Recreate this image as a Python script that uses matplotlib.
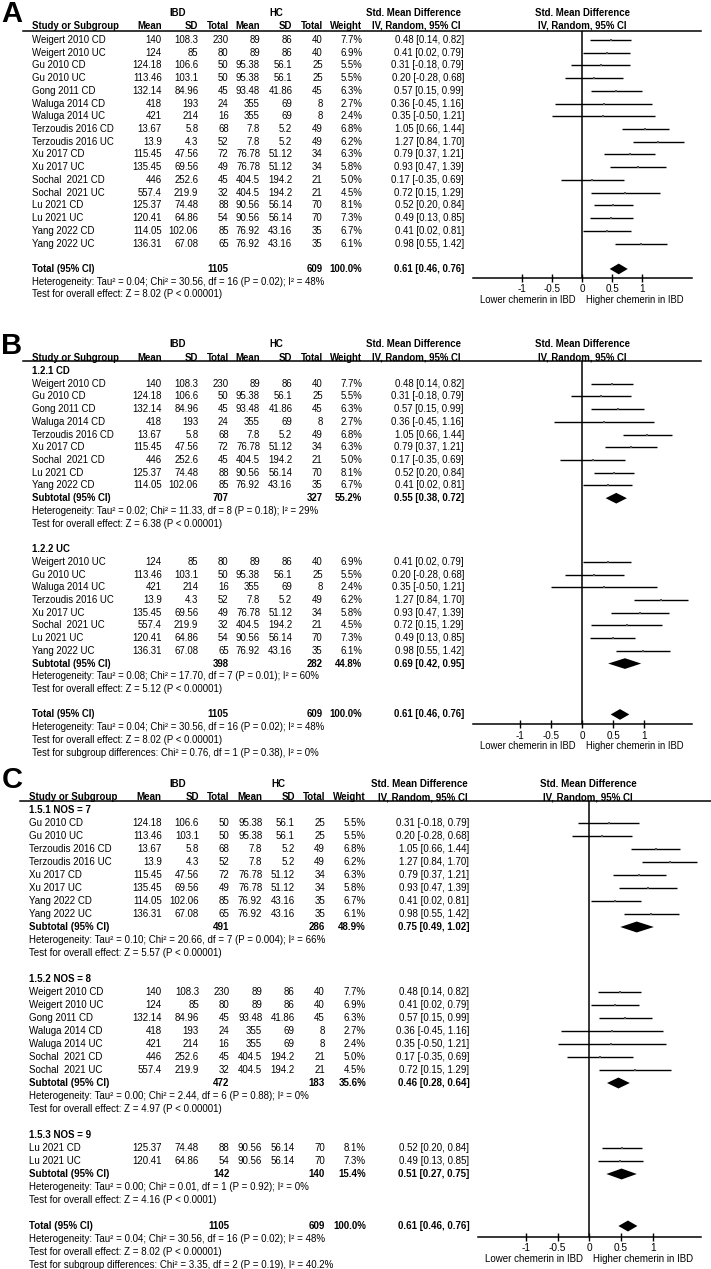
import matplotlib
matplotlib.use("Agg")
import matplotlib.pyplot as plt

plt.rcParams['font.family'] = ['Liberation Sans', 'DejaVu Sans']
plt.rcParams['axes.unicode_minus'] = False

# ---- study level data (order of panel A) ----
names = ["Weigert 2010 CD", "Weigert 2010 UC", "Gu 2010 CD", "Gu 2010 UC", "Gong 2011 CD",
         "Waluga 2014 CD", "Waluga 2014 UC", "Terzoudis 2016 CD", "Terzoudis 2016 UC",
         "Xu 2017 CD", "Xu 2017 UC", "Sochal  2021 CD", "Sochal  2021 UC",
         "Lu 2021 CD", "Lu 2021 UC", "Yang 2022 CD", "Yang 2022 UC"]
ibd_mean = [140, 124, 124.18, 113.46, 132.14, 418, 421, 13.67, 13.9, 115.45, 135.45, 446, 557.4,
            125.37, 120.41, 114.05, 136.31]
ibd_sd = [108.3, 85, 106.6, 103.1, 84.96, 193, 214, 5.8, 4.3, 47.56, 69.56, 252.6, 219.9,
          74.48, 64.86, 102.06, 67.08]
ibd_n = [230, 80, 50, 50, 45, 24, 16, 68, 52, 72, 49, 45, 32, 88, 54, 85, 65]
hc_mean = [89, 89, 95.38, 95.38, 93.48, 355, 355, 7.8, 7.8, 76.78, 76.78, 404.5, 404.5,
           90.56, 90.56, 76.92, 76.92]
hc_sd = [86, 86, 56.1, 56.1, 41.86, 69, 69, 5.2, 5.2, 51.12, 51.12, 194.2, 194.2,
         56.14, 56.14, 43.16, 43.16]
hc_n = [40, 40, 25, 25, 45, 8, 8, 49, 49, 34, 34, 21, 21, 70, 70, 35, 35]
weight = [7.7, 6.9, 5.5, 5.5, 6.3, 2.7, 2.4, 6.8, 6.2, 6.3, 5.8, 5.0, 4.5, 8.1, 7.3, 6.7, 6.1]
smd = [0.48, 0.41, 0.31, 0.20, 0.57, 0.36, 0.35, 1.05, 1.27, 0.79, 0.93, 0.17, 0.72, 0.52, 0.49, 0.41, 0.98]
smd_lo = [0.14, 0.02, -0.18, -0.28, 0.15, -0.45, -0.50, 0.66, 0.84, 0.37, 0.47, -0.35, 0.15,
          0.20, 0.13, 0.02, 0.55]
smd_hi = [0.82, 0.79, 0.79, 0.68, 0.99, 1.16, 1.21, 1.44, 1.70, 1.21, 1.39, 0.69, 1.29,
          0.84, 0.85, 0.81, 1.42]

# ---- overall pooled result ----
tot_ibd, tot_hc = 1105, 609
tot_smd, tot_lo, tot_hi = 0.61, 0.46, 0.76
tot_het = (0.04, 30.56, 16, "0.02", "48")
tot_z = (8.02, "< 0.00001")

# ---- panel B: by disease ----
b_labels = ["1.2.1 CD", "1.2.2 UC"]
b_members = [[0, 2, 4, 5, 7, 9, 11, 13, 15], [1, 3, 6, 8, 10, 12, 14, 16]]
b_ibd_n = [707, 398]
b_hc_n = [327, 282]
b_weight = [55.2, 44.8]
b_smd = [0.55, 0.69]
b_lo = [0.38, 0.42]
b_hi = [0.72, 0.95]
b_het = [(0.02, 11.33, 8, "0.18", "29"), (0.08, 17.70, 7, "0.01", "60")]
b_z = [(6.38, "< 0.00001"), (5.12, "< 0.00001")]
b_diff = (0.76, 1, "0.38", "0")

# ---- panel C: by NOS score ----
c_labels = ["1.5.1 NOS = 7", "1.5.2 NOS = 8", "1.5.3 NOS = 9"]
c_members = [[2, 3, 7, 8, 9, 10, 15, 16], [0, 1, 4, 5, 6, 11, 12], [13, 14]]
c_ibd_n = [491, 472, 142]
c_hc_n = [286, 183, 140]
c_weight = [48.9, 35.6, 15.4]
c_smd = [0.75, 0.46, 0.51]
c_lo = [0.49, 0.28, 0.27]
c_hi = [1.02, 0.64, 0.75]
c_het = [(0.10, 20.66, 7, "0.004", "66"), (0.00, 2.44, 6, "0.88", "0"), (0.00, 0.01, 1, "0.92", "0")]
c_z = [(5.57, "< 0.00001"), (4.97, "< 0.00001"), (4.16, "< 0.0001")]
c_diff = (3.35, 2, "0.19", "40.2")


def het_text(h):
    return f"Heterogeneity: Tau² = {h[0]:.2f}; Chi² = {h[1]:.2f}, df = {h[2]} (P = {h[3]}); I² = {h[4]}%"


def z_text(z):
    return f"Test for overall effect: Z = {z[0]:.2f} (P {z[1]})"


def diff_text(d):
    return f"Test for subgroup differences: Chi² = {d[0]:.2f}, df = {d[1]} (P = {d[2]}), I² = {d[3]}%"


def total_rows():
    return [("total",), ("text", het_text(tot_het)), ("text", z_text(tot_z))]


rows_a = [("study", i) for i in range(len(names))] + [("blank",)] + total_rows()


def grouped_rows(labels, members, summ, het, z, diff):
    rows = []
    for g, lab in enumerate(labels):
        rows.append(("group", lab))
        rows += [("study", i) for i in members[g]]
        rows.append(("sub", summ, g))
        rows.append(("text", het_text(het[g])))
        rows.append(("text", z_text(z[g])))
        rows.append(("blank",))
    rows += total_rows()
    rows.append(("text", diff_text(diff)))
    return rows


b_summ = (b_ibd_n, b_hc_n, b_weight, b_smd, b_lo, b_hi)
c_summ = (c_ibd_n, c_hc_n, c_weight, c_smd, c_lo, c_hi)
rows_b = grouped_rows(b_labels, b_members, b_summ, b_het, b_z, b_diff)
rows_c = grouped_rows(c_labels, c_members, c_summ, c_het, c_z, c_diff)

# ---- layout in pixels ----
cols_ab = dict(name=31.7, m1=161.7, s1=198.3, n1=228.7, m2=260, s2=292.3, n2=322.7,
               w=362.3, ci=464, ibd=177.7, hc=276.7, smd=461, plot_hdr=582.5)
cols_c = dict(name=29.3, m1=161.7, s1=199, n1=229.3, m2=262.3, s2=294.7, n2=325,
              w=366, ci=469.3, ibd=177.5, hc=278.3, smd=468, plot_hdr=588)

lay_a = dict(letter="A", lx=1, ly=0.5, hdr1=13.3, hdr2=26, line_y=30.5, line_x=(23, 701),
             start=40, step=12.72, axis_y=278, plot_x=(472.7, 691.7), zero_x=582, unit=60.2,
             fs=6.9, cols=cols_ab)
lay_b = dict(letter="B", lx=1, ly=332.5, hdr1=344.3, hdr2=357.7, line_y=361.3, line_x=(23, 701),
             start=371, step=12.72, axis_y=724.3, plot_x=(472.7, 691.7), zero_x=582, unit=62.3,
             fs=6.9, cols=cols_ab)
lay_c = dict(letter="C", lx=1.5, ly=766.5, hdr1=784.3, hdr2=797.3, line_y=801, line_x=(20, 711),
             start=810, step=13.0, axis_y=1236.7, plot_x=(477.7, 701), zero_x=589.3, unit=63.3,
             fs=7.05, cols=cols_c)

W, H = 711, 1269
fig = plt.figure(figsize=(W / 100, H / 100), dpi=100)
bg = fig.add_axes([0, 0, 1, 1])
bg.set_xlim(0, W)
bg.set_ylim(H, 0)
bg.axis("off")


def diamond(ax, y, est, lo, hi, half=0.42):
    ax.fill([lo, est, hi, est], [y, y - half, y, y + half], color="black", lw=0)


def draw_panel(L, rows):
    c = L["cols"]
    fs = L["fs"]
    reg = dict(fontsize=fs, va="center")
    bold = dict(fontsize=fs, va="center", fontweight="bold")

    bg.text(L["lx"], L["ly"], L["letter"], fontsize=21, fontweight="bold", ha="left", va="top")

    # column headers
    bg.text(c["ibd"], L["hdr1"], "IBD", ha="center", **bold)
    bg.text(c["hc"], L["hdr1"], "HC", ha="center", **bold)
    bg.text(c["smd"], L["hdr1"], "Std. Mean Difference", ha="right", **bold)
    bg.text(c["plot_hdr"], L["hdr1"], "Std. Mean Difference", ha="center", **bold)
    bg.text(c["name"], L["hdr2"], "Study or Subgroup", ha="left", **bold)
    for key, lab in [("m1", "Mean"), ("s1", "SD"), ("n1", "Total"),
                     ("m2", "Mean"), ("s2", "SD"), ("n2", "Total"), ("w", "Weight")]:
        bg.text(c[key], L["hdr2"], lab, ha="right", **bold)
    bg.text(c["smd"], L["hdr2"], "IV, Random, 95% CI", ha="right", **bold)
    bg.text(c["plot_hdr"], L["hdr2"], "IV, Random, 95% CI", ha="center", **bold)
    bg.plot(L["line_x"], [L["line_y"], L["line_y"]], color="black", lw=1.1)

    # forest axes, y measured in row units
    x0, x1 = L["plot_x"]
    ax = fig.add_axes([x0 / W, 1 - L["axis_y"] / H, (x1 - x0) / W, (L["axis_y"] - L["line_y"]) / H])
    ax.patch.set_visible(False)
    ax.set_xlim((x0 - L["zero_x"]) / L["unit"], (x1 - L["zero_x"]) / L["unit"])
    ax.set_ylim((L["axis_y"] - L["start"]) / L["step"], (L["line_y"] - L["start"]) / L["step"])
    for s in ["top", "left", "right"]:
        ax.spines[s].set_visible(False)
    ax.spines["bottom"].set_linewidth(1.1)
    ax.set_yticks([])
    ticks = [-1, -0.5, 0, 0.5, 1]
    ax.set_xticks(ticks)
    ax.set_xticklabels([f"{t:g}" for t in ticks])
    ax.tick_params(axis="x", direction="inout", length=6, width=1, pad=1.5, labelsize=fs + 0.2)
    ax.axvline(0, color="black", lw=1.1)
    ax.annotate("Lower chemerin in IBD", xy=(0, 0), xycoords=("data", "axes fraction"),
                xytext=(-6, -22), textcoords="offset pixels", ha="right", va="center", fontsize=fs - 0.05)
    ax.annotate("Higher chemerin in IBD", xy=(0, 0), xycoords=("data", "axes fraction"),
                xytext=(4, -22), textcoords="offset pixels", ha="left", va="center", fontsize=fs - 0.05)

    for r, row in enumerate(rows):
        y = L["start"] + r * L["step"]
        kind = row[0]
        if kind == "study":
            i = row[1]
            bg.text(c["name"], y, names[i], ha="left", **reg)
            bg.text(c["m1"], y, f"{ibd_mean[i]:g}", ha="right", **reg)
            bg.text(c["s1"], y, f"{ibd_sd[i]:g}", ha="right", **reg)
            bg.text(c["n1"], y, f"{ibd_n[i]}", ha="right", **reg)
            bg.text(c["m2"], y, f"{hc_mean[i]:g}", ha="right", **reg)
            bg.text(c["s2"], y, f"{hc_sd[i]:g}", ha="right", **reg)
            bg.text(c["n2"], y, f"{hc_n[i]}", ha="right", **reg)
            bg.text(c["w"], y, f"{weight[i]:.1f}%", ha="right", **reg)
            bg.text(c["ci"], y, f"{smd[i]:.2f} [{smd_lo[i]:.2f}, {smd_hi[i]:.2f}]", ha="right", **reg)
            ax.plot([smd_lo[i], smd_hi[i]], [r, r], color="black", lw=1.0, solid_capstyle="butt")
            ax.plot([smd[i]], [r], marker="s", ms=1.8, color="#555555", mew=0)
        elif kind == "group":
            bg.text(c["name"], y, row[1], ha="left", **bold)
        elif kind == "sub":
            n1, n2, w, e, lo, hi = row[1]
            g = row[2]
            bg.text(c["name"], y, "Subtotal (95% CI)", ha="left", **bold)
            bg.text(c["n1"], y, f"{n1[g]}", ha="right", **bold)
            bg.text(c["n2"], y, f"{n2[g]}", ha="right", **bold)
            bg.text(c["w"], y, f"{w[g]:.1f}%", ha="right", **bold)
            bg.text(c["ci"], y, f"{e[g]:.2f} [{lo[g]:.2f}, {hi[g]:.2f}]", ha="right", **bold)
            diamond(ax, r, e[g], lo[g], hi[g])
        elif kind == "total":
            bg.text(c["name"], y, "Total (95% CI)", ha="left", **bold)
            bg.text(c["n1"], y, f"{tot_ibd}", ha="right", **bold)
            bg.text(c["n2"], y, f"{tot_hc}", ha="right", **bold)
            bg.text(c["w"], y, "100.0%", ha="right", **bold)
            bg.text(c["ci"], y, f"{tot_smd:.2f} [{tot_lo:.2f}, {tot_hi:.2f}]", ha="right", **bold)
            diamond(ax, r, tot_smd, tot_lo, tot_hi)
        elif kind == "text":
            bg.text(c["name"], y, row[1], ha="left", **reg)


draw_panel(lay_a, rows_a)
draw_panel(lay_b, rows_b)
draw_panel(lay_c, rows_c)

fig.savefig("out.png", dpi=100)
